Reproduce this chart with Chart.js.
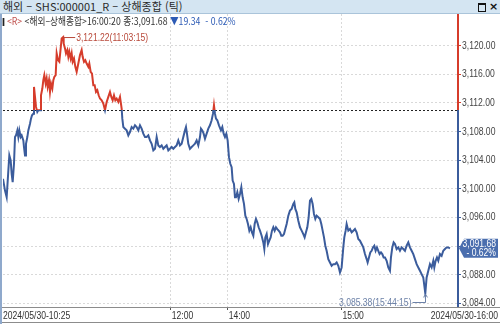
<!DOCTYPE html>
<html lang="ko">
<head>
<meta charset="utf-8">
<script src="https://cdn.jsdelivr.net/npm/chart.js@4.4.1/dist/chart.umd.min.js"></script>
<style>
  html, body { margin: 0; padding: 0; background: #fff; }
  body { width: 500px; height: 324px; overflow: hidden; position: relative; font-family: "Noto Sans CJK KR", sans-serif; }
  #titlebar { position: absolute; left: 0; top: 0; width: 500px; height: 13px; background: #d4e5f2; border-bottom: 1px solid #aac4da; font-size: 11px; line-height: 13px; color: #2a2a2a; white-space: nowrap; }
  #titlebar .t { position: absolute; left: 3px; top: 0; }
  #titlebar .b1 { position: absolute; left: 478px; top: 3px; width: 6px; height: 6px; border: 1px solid #111; border-top-width: 2px; }
  #titlebar .b2 { position: absolute; left: 489px; top: 0; font-family: "DejaVu Sans", sans-serif; font-size: 11px; font-weight: bold; color: #111; }
  #legend { position: absolute; left: 0; top: 14px; height: 13px; font-size: 10px; line-height: 13px; color: #333; white-space: nowrap; z-index: 2; transform: scaleX(0.87); transform-origin: 0 0; }
  #legend .bar { display: inline-block; width: 2px; height: 8px; background: #222; margin: 0 3px 0 3px; vertical-align: -1px; }
  #legend .r { color: #c0504d; }
  #legend .dn { color: #2d5bb5; }
  #edge { position: absolute; left: 0; top: 14px; width: 2px; height: 310px; background: #8fa9cc; z-index: 3; }
  #wrap { position: absolute; left: 0; top: 14px; width: 500px; height: 310px; }
</style>
</head>
<body>
<div id="titlebar"><span class="t">해외 – SHS:000001_R – 상해종합 (틱)</span><span class="b1"></span><span class="b2">×</span></div>
<div id="legend"><span class="bar"></span><span class="r">&lt;R&gt;</span> &lt;해외–상해종합&gt;16:00:20 종:3,091.68 <span class="dn">▼19.34 &nbsp;- 0.62%</span></div>
<div id="edge"></div>
<div id="wrap"><canvas id="chart" width="500" height="310"></canvas></div>
<script>
// 거래 시간(10:30 KST 기준 경과 분, 점심 휴장 제외)
const tradeMin = [
  1.5, 2.56, 3.44, 4.32, 4.84, 5.55, 6.07, 6.60, 7.30, 7.83, 8.36, 9.06, 9.59, 10.12, 10.82, 11.35,
  12.23, 12.58, 13.11, 13.63, 14.34, 14.86, 15.74, 16.27, 16.80, 17.50, 17.85, 18.38, 18.91, 19.61,
  20.14, 21.02, 21.54, 22.25, 22.77, 23.30, 24.00, 24.53, 25.06, 25.76, 26.29, 26.82, 27.52, 28.05,
  28.58, 29.28, 29.81, 30.51, 31.21, 31.92, 32.44, 33.25, 33.50, 34.20, 34.73, 35.43, 35.96, 36.49,
  37.19, 37.72, 38.24, 38.95, 39.65, 40.35, 41.23, 42.11, 42.99, 43.52, 44.22, 44.92, 45.63, 46.51,
  47.03, 47.74, 48.44, 49.14, 49.85, 50.55, 51.25, 51.96, 52.66, 53.54, 54.42, 55.30, 56.18, 57.06,
  57.93, 58.64, 59.34, 60.04, 60.75, 61.45, 62.33, 63.21,
  64.09, 64.44, 64.97, 65.84, 66.72, 67.60, 68.48, 69.36, 70.24, 71.12, 72.00, 72.88, 73.76, 74.63,
  75.51, 76.39, 77.27, 78.15, 79.03, 79.91, 80.79, 81.67, 82.55, 83.42, 84.30, 85.18, 86.06, 86.94,
  87.82, 88.70, 89.58, 90.46, 91.34, 92.21, 93.09, 93.97, 94.85, 95.73, 96.61, 97.49, 98.02, 98.54,
  99.25, 100.13, 101.00, 101.88, 102.76, 103.64, 104.52, 105.40, 105.93, 106.63, 107.33, 108.04,
  108.92, 109.79, 110.67, 111.55, 112.26, 112.78, 113.31, 113.84, 114.54, 115.42, 116.47, 117.18,
  117.88, 118.58, 119.29, 119.99, 120.69, 121.40, 122.10, 122.63, 123.33, 123.86,
  124.39, 125.10, 125.80, 126.50, 127.21, 127.91, 128.61, 129.32, 130.02, 130.72, 131.43, 132.13,
  132.83, 133.54, 134.24, 134.94, 135.65, 136.35, 137.05, 137.93, 138.81, 139.34, 139.86, 140.57,
  141.27, 141.97, 142.68, 143.38, 144.08, 144.79, 145.49, 146.19, 146.90, 147.60, 148.30, 149.01,
  149.71, 150.41, 151.12, 152.00, 152.87, 153.75, 154.63, 155.16, 155.69, 156.39, 157.27, 158.15,
  159.03, 159.91, 160.61, 161.31, 162.02, 162.72, 163.42, 164.13, 164.83, 165.53, 166.24, 166.94,
  167.82, 168.70, 169.40, 170.10, 170.81, 171.51, 172.21, 173.09, 173.97, 174.85, 175.73, 176.61,
  177.49, 178.37, 179.24, 180.12, 181.00, 181.53, 182.23, 182.76,
  183.64, 184.52, 185.40, 186.28, 187.15, 188.03, 188.91, 189.79, 190.67, 191.55, 192.43, 193.31,
  193.83, 194.54, 195.24, 195.94, 196.65, 197.35, 198.05, 198.76, 199.46, 200.16, 200.87, 201.57,
  202.27, 202.98, 203.86, 204.73, 205.61, 206.14, 206.84, 207.55, 208.25, 209.13, 210.01, 210.89,
  211.77, 212.65, 213.52, 214.40, 215.28, 216.16, 217.04, 217.92, 218.80, 219.68, 220.56, 221.44,
  222.31, 223.19, 224.25, 224.95, 225.83, 226.71, 227.59, 228.47, 229.00, 229.70, 230.40, 231.10,
  231.98, 232.86, 233.74, 234.62, 235.50, 236.38, 237.26
];
const price = [
  3101.40, 3099.76, 3098.82, 3102.56, 3104.67, 3103.97, 3102.10, 3100.93, 3103.50, 3107.24, 3107.47, 3108.17, 3107.24, 3108.17, 3107.24, 3107.47,
  3106.77, 3105.84, 3104.67, 3106.30, 3107.24, 3108.17, 3109.11, 3109.81, 3110.28, 3110.51, 3114.25, 3112.85, 3111.45, 3110.75,
  3110.98, 3110.98, 3113.08, 3114.02, 3115.19, 3115.89, 3114.72, 3115.42, 3114.25, 3115.19, 3113.55, 3114.72, 3114.02, 3115.19,
  3115.65, 3115.89, 3118.93, 3117.99, 3117.76, 3119.63, 3121.03, 3121.22, 3120.33, 3119.63, 3118.93, 3119.39, 3118.46, 3119.16,
  3118.23, 3118.93, 3117.76, 3118.23, 3117.06, 3116.36, 3117.52, 3118.69, 3119.39, 3118.46, 3117.76, 3117.99, 3117.52, 3117.06,
  3117.52, 3116.36, 3116.12, 3114.49, 3114.49, 3113.55, 3113.78, 3113.08, 3112.62, 3112.38, 3111.91, 3110.98, 3112.15, 3112.85,
  3113.55, 3112.85, 3112.38, 3113.08, 3112.38, 3112.62, 3112.15, 3112.85,
  3111.21, 3109.81, 3108.64, 3108.41, 3108.17, 3107.47, 3107.94, 3108.64, 3108.41, 3108.88, 3108.64, 3108.17, 3108.88, 3108.41,
  3107.71, 3107.24, 3107.24, 3107.47, 3106.77, 3106.30, 3105.37, 3105.60, 3107.24, 3106.07, 3105.84, 3106.07, 3105.60, 3105.84,
  3106.07, 3105.37, 3105.60, 3105.84, 3105.60, 3105.84, 3106.07, 3106.77, 3106.07, 3106.30, 3107.24, 3108.17, 3108.64, 3107.71,
  3106.30, 3105.60, 3105.84, 3106.07, 3106.30, 3106.77, 3106.07, 3107.24, 3108.41, 3108.17, 3107.71, 3107.01,
  3107.71, 3108.41, 3108.88, 3109.58, 3110.51, 3111.68, 3110.51, 3109.81, 3109.58, 3108.88, 3108.17, 3108.64,
  3107.71, 3107.24, 3107.71, 3106.77, 3104.43, 3103.50, 3103.03, 3101.16, 3100.69, 3098.82,
  3098.82, 3099.53, 3098.59, 3099.29, 3100.23, 3098.82, 3097.89, 3096.25, 3095.79, 3095.08, 3094.15, 3094.62,
  3093.92, 3093.45, 3095.08, 3095.79, 3095.32, 3094.62, 3094.15, 3093.45, 3092.51, 3091.58, 3093.21, 3093.68,
  3092.28, 3092.75, 3093.21, 3094.15, 3094.62, 3094.15, 3094.62, 3094.38, 3094.15, 3093.92, 3093.45, 3093.45,
  3093.68, 3094.38, 3095.08, 3096.25, 3096.95, 3097.19, 3097.89, 3098.12, 3097.19, 3096.72, 3095.55, 3094.62,
  3094.15, 3093.68, 3093.21, 3093.92, 3094.62, 3096.02, 3098.36, 3098.59, 3097.89, 3096.49, 3095.79, 3096.25,
  3096.02, 3095.79, 3095.08, 3094.15, 3093.21, 3092.05, 3091.34, 3090.18, 3089.71, 3089.24, 3089.47, 3089.47,
  3089.71, 3089.24, 3088.31, 3089.01, 3091.81, 3093.21, 3094.15, 3095.08,
  3094.15, 3094.38, 3093.92, 3094.15, 3094.38, 3093.92, 3092.98, 3092.75, 3092.28, 3091.81, 3090.88, 3090.18,
  3089.71, 3090.41, 3091.11, 3091.34, 3091.81, 3092.05, 3091.34, 3091.81, 3091.34, 3090.88, 3091.11, 3090.88,
  3090.41, 3090.41, 3089.94, 3089.01, 3088.54, 3090.41, 3091.81, 3092.51, 3092.28, 3091.58, 3091.81, 3091.34,
  3091.81, 3091.58, 3091.34, 3092.05, 3092.51, 3091.81, 3091.34, 3090.88, 3090.18, 3089.47, 3089.01, 3088.54,
  3088.07, 3087.61, 3085.38, 3087.61, 3088.54, 3089.47, 3089.01, 3089.94, 3089.01, 3089.94, 3090.41, 3089.94,
  3090.88, 3090.64, 3091.34, 3091.58, 3091.81, 3091.81, 3091.68
];

const prevClose = 3111.02;   // 전일 종가 기준선
const yTicks = [3084, 3088, 3092, 3096, 3100, 3104, 3108, 3112, 3116, 3120];
const xTicks = [90, 120, 180];
const xTickLabels = ['12:00', '14:00', '15:00'];
const startLabel = '2024/05/30-10:25';
const endLabel = '2024/05/30-16:00';
const highMin = 33.25, highVal = 3121.22, highText = '3,121.22(11:03:15)';
const lowMin = 224.25, lowVal = 3085.38, lowText = '3,085.38(15:44:15)';
const lastVal = 3091.68, lastPct = '- 0.62%';

const upColor = '#d63c2b';
const downColor = '#3b5c9c';
const numFont = '"Liberation Sans", Arial, sans-serif';

function fmt(v) {
  return v.toLocaleString('en-US', { minimumFractionDigits: 2, maximumFractionDigits: 2 });
}

// 좁은 글꼴 흉내: 가로로 눌러서 그림
function narrowText(ctx, text, x, y, align, color, size) {
  ctx.save();
  ctx.font = size + 'px ' + numFont;
  ctx.fillStyle = color;
  ctx.textAlign = align;
  ctx.textBaseline = 'middle';
  ctx.translate(x, y);
  ctx.scale(0.78, 1);
  ctx.fillText(text, 0, 0);
  ctx.restore();
}

// 기준선 위는 빨강, 아래는 파랑
function splitColor(context) {
  const chart = context.chart;
  const area = chart.chartArea;
  if (!area) return downColor;
  const yRef = chart.scales.y.getPixelForValue(prevClose);
  const f = Math.min(1, Math.max(0, (yRef - area.top) / (area.bottom - area.top)));
  const g = chart.ctx.createLinearGradient(0, area.top, 0, area.bottom);
  g.addColorStop(0, upColor);
  g.addColorStop(f, upColor);
  g.addColorStop(f, downColor);
  g.addColorStop(1, downColor);
  return g;
}

const overlay = {
  id: 'overlay',
  beforeDatasetsDraw(chart) {
    const { ctx, chartArea: a, scales: { y } } = chart;
    const yr = Math.round(y.getPixelForValue(prevClose)) + 0.5;
    ctx.save();
    ctx.strokeStyle = '#222';
    ctx.lineWidth = 1;
    ctx.setLineDash([2, 2]);
    ctx.beginPath();
    ctx.moveTo(a.left, yr);
    ctx.lineTo(a.right, yr);
    ctx.stroke();
    ctx.restore();
  },
  afterDraw(chart) {
    const { ctx, chartArea: a, scales: { x, y } } = chart;
    const W = chart.width, H = chart.height;
    const yr = y.getPixelForValue(prevClose);
    ctx.save();

    // 하단 축 경계선
    ctx.strokeStyle = '#8c8c8c';
    ctx.lineWidth = 1;
    ctx.beginPath();
    ctx.moveTo(0, a.bottom + 0.5);
    ctx.lineTo(W, a.bottom + 0.5);
    ctx.moveTo(0, H - 1.5);
    ctx.lineTo(W, H - 1.5);
    ctx.stroke();

    // 오른쪽 가격축 (기준선 기준 두 색)
    ctx.lineWidth = 2;
    ctx.strokeStyle = upColor;
    ctx.beginPath();
    ctx.moveTo(a.right, a.top);
    ctx.lineTo(a.right, yr);
    ctx.stroke();
    ctx.strokeStyle = downColor;
    ctx.beginPath();
    ctx.moveTo(a.right, yr);
    ctx.lineTo(a.right, a.bottom);
    ctx.stroke();

    // 가격축 라벨
    yTicks.forEach(v => {
      narrowText(ctx, fmt(v), a.right + 4, y.getPixelForValue(v), 'left', '#444', 11);
    });

    // 시간축 라벨
    const ly0 = a.bottom + 9;
    xTicks.forEach((v, i) => {
      narrowText(ctx, xTickLabels[i], x.getPixelForValue(v) + 1, ly0, 'left', '#333', 11);
    });
    narrowText(ctx, startLabel, a.left, ly0, 'left', '#333', 11);
    narrowText(ctx, endLabel, W - 2, ly0, 'right', '#333', 11);

    // 고가 표시
    const hx = x.getPixelForValue(highMin), hy = y.getPixelForValue(highVal);
    ctx.strokeStyle = '#b8493a';
    ctx.lineWidth = 1;
    ctx.beginPath();
    ctx.moveTo(hx, hy + 0.5);
    ctx.lineTo(hx + 12, hy + 0.5);
    ctx.stroke();
    narrowText(ctx, highText, hx + 13, hy + 0.5, 'left', '#b8493a', 11);

    // 저가 표시
    const lx = Math.round(x.getPixelForValue(lowMin)) + 0.5, ly = y.getPixelForValue(lowVal);
    const lb = Math.round(ly + 9) + 0.5;
    ctx.strokeStyle = '#6d82a8';
    ctx.beginPath();
    ctx.moveTo(lx - 13, lb);
    ctx.lineTo(lx, lb);
    ctx.lineTo(lx, ly + 2);
    ctx.stroke();
    ctx.beginPath();
    ctx.moveTo(lx - 2, ly + 4);
    ctx.lineTo(lx, ly + 1);
    ctx.lineTo(lx + 2, ly + 4);
    ctx.stroke();
    narrowText(ctx, lowText, lx - 14, lb, 'right', '#6d82a8', 11);

    // 현재가 태그
    const py = y.getPixelForValue(lastVal);
    const bx = a.right + 1;
    ctx.fillStyle = '#4a6eae';
    ctx.beginPath();
    ctx.moveTo(bx, py);
    ctx.lineTo(bx + 5, py - 9.5);
    ctx.lineTo(W - 2, py - 9.5);
    ctx.lineTo(W - 2, py + 9.5);
    ctx.lineTo(bx + 5, py + 9.5);
    ctx.closePath();
    ctx.fill();
    narrowText(ctx, fmt(lastVal), W - 4, py - 4.5, 'right', '#fff', 11);
    narrowText(ctx, lastPct, W - 4, py + 4.5, 'right', '#fff', 11);

    ctx.restore();
  }
};

new Chart(document.getElementById('chart'), {
  type: 'line',
  data: {
    datasets: [{
      data: tradeMin.map((m, i) => ({ x: m, y: price[i] })),
      borderColor: splitColor,
      borderWidth: 2,
      pointRadius: 0,
      tension: 0,
      fill: false
    }]
  },
  options: {
    responsive: false,
    animation: false,
    events: [],
    layout: { padding: { left: 3, top: 0, right: 0, bottom: 0 } },
    plugins: { legend: { display: false }, tooltip: { enabled: false } },
    scales: {
      x: {
        type: 'linear',
        min: 1.5,
        max: 241.5,
        afterBuildTicks: s => { s.ticks = xTicks.map(v => ({ value: v })); },
        afterFit: s => { s.height = 17; },
        border: { display: false, dash: [2, 2] },
        grid: { color: '#d9d9d9', drawTicks: true, tickLength: 3, tickColor: '#555' },
        ticks: { display: false }
      },
      y: {
        position: 'right',
        min: 3083.48,
        max: 3124.44,
        afterBuildTicks: s => { s.ticks = yTicks.map(v => ({ value: v })); },
        afterFit: s => { s.width = 42; },
        border: { display: false, dash: [2, 2] },
        grid: {
          color: '#d9d9d9',
          tickLength: 3,
          tickColor: c => (c.tick && c.tick.value > prevClose ? upColor : downColor)
        },
        ticks: { display: false }
      }
    }
  },
  plugins: [overlay]
});
</script>
</body>
</html>
